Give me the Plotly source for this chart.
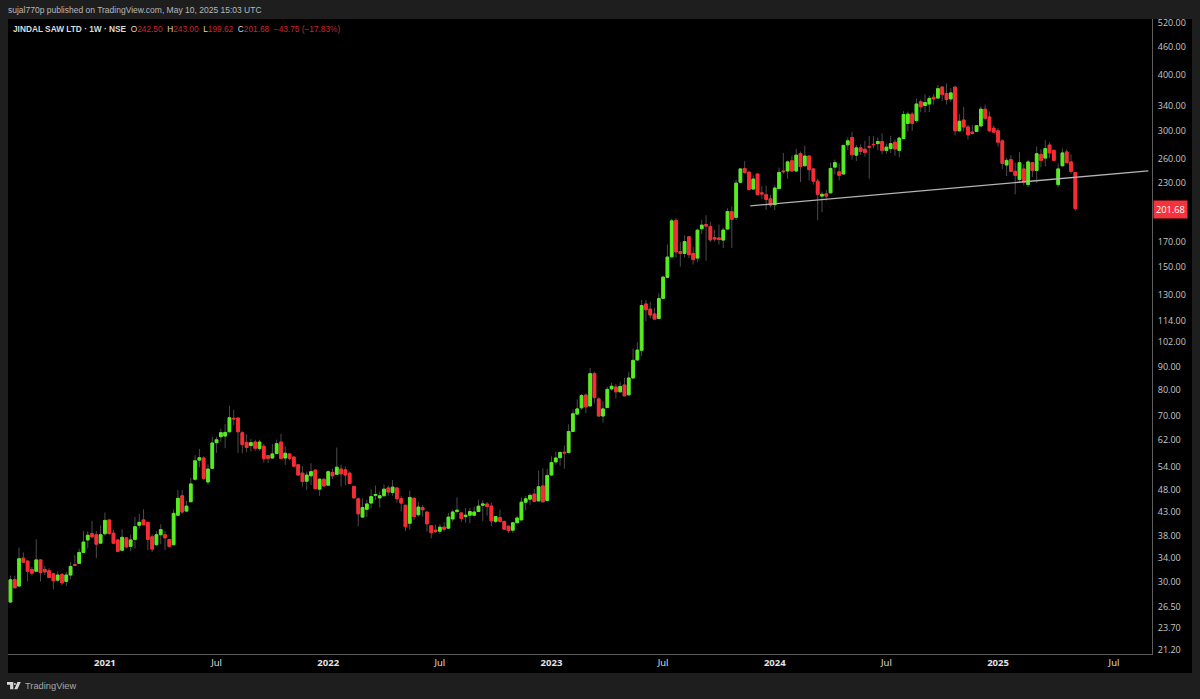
import plotly.graph_objects as go
import pandas as pd
import numpy as np

# weekly candles, oldest first, last one is the week of 2025-05-05
opens = [
    28.4, 27.1, 30.4, 29.4, 33.9, 33.4, 32, 31.7, 33.6, 32,
    31.8, 31.3, 30.3, 31.2, 30.1, 31.1, 32.8, 33, 34.9, 37.2,
    38.4, 38.2, 36.6, 38.4, 41.2, 38.5, 37.2, 35.3, 37.6, 36,
    37.3, 40.1, 41.2, 40.7, 37.8, 36.3, 38.2, 38.2, 37.3, 36.3,
    42.2, 46.6, 43.1, 45.2, 50.7, 55.9, 56.5, 50, 53.6, 61.1,
    63, 63.2, 64.6, 69.2, 69.3, 64.3, 61.2, 60.2, 61.3, 59.3,
    60, 57.2, 56.5, 57.8, 61.3, 56.5, 57.7, 56.8, 54.6, 52.3,
    50.2, 51.6, 53.1, 48.2, 50.7, 49.2, 52.5, 52, 53.4, 53.2,
    52.3, 48.9, 45.9, 41.8, 43.5, 44.9, 46.7, 46.1, 46.6, 48.5,
    47.4, 48.5, 45.9, 44.4, 40.5, 46, 42.3, 43.9, 42.9, 40,
    39.1, 38.9, 39.7, 39.5, 41.4, 43, 42.7, 41.9, 42.2, 42.2,
    43, 44.4, 44.7, 44.2, 40.9, 41.7, 40.9, 39.9, 39.1, 40.6,
    41.2, 45.1, 45.8, 47, 45.4, 49, 45.5, 51.8, 55.4, 56.6,
    58.2, 58.1, 64.7, 70.7, 73, 77.9, 73.7, 87, 76.4, 70,
    73.1, 80.4, 81.2, 79.2, 82, 78, 85, 93.2, 97.9, 124,
    120.8, 117.8, 115.2, 127.6, 142, 157.7, 189.8, 162, 160.5, 174.7,
    160.5, 156.7, 182, 186, 184.1, 174, 173.7, 171.8, 181.8, 198.7,
    192.9, 230.7, 247.6, 243, 222.9, 240.7, 218.6, 216.6, 212, 205.8,
    223.4, 244.4, 244.4, 257.5, 244.4, 267, 251, 263.8, 247, 232,
    215, 217.5, 218.6, 249.3, 243.4, 240.7, 279.3, 290, 265, 275,
    273, 277, 280, 281, 284, 271.5, 274, 283, 271.5, 288.5,
    311.6, 326.6, 316, 348, 341.3, 344, 356, 354.5, 375, 363,
    353, 375, 300, 317, 306, 298, 299, 307.5, 335, 322,
    304, 300, 285, 252, 259, 244, 234, 247, 228, 255,
    245, 265.7, 261, 279, 271.5, 228, 251, 269.4, 256, 242.5,
]
highs = [
    29.3, 31, 31, 35.8, 34.9, 33.5, 32.4, 37.3, 33.7, 32.6,
    32.2, 31.4, 31.7, 31.4, 31.6, 33.2, 34.4, 35.6, 38.9, 38.9,
    41, 38.9, 40.1, 42.8, 41.2, 39.1, 37.3, 39.3, 37.7, 38.2,
    41.8, 42.5, 43.5, 40.8, 38.3, 38.9, 40.3, 39, 37.4, 43.5,
    48, 48, 45.4, 51.1, 57.3, 59.2, 57, 54.7, 63, 63,
    65.6, 67.2, 73.8, 72.3, 69.3, 64.8, 63.8, 62.3, 62, 62,
    60.7, 57.4, 60.7, 62.1, 63.9, 60, 57.9, 56.9, 54.7, 54.2,
    52.7, 55, 53.5, 51, 51, 53.1, 53.5, 59.6, 54.6, 54.1,
    52.7, 49, 46.2, 46, 45.7, 48.2, 49.1, 47.6, 49.4, 49.1,
    50.5, 48.6, 46.6, 44.5, 47.8, 46.2, 45.2, 44.5, 42.9, 40,
    40.2, 40.3, 40.7, 42.7, 43.4, 46.2, 42.8, 43.8, 43.8, 44.1,
    45.7, 45.5, 45.1, 45, 42, 43.4, 41, 40, 40.8, 42,
    46.2, 46.6, 47.2, 48.2, 53, 53.6, 53.5, 57, 58.4, 58.6,
    60.2, 67.1, 72.3, 76.1, 78.3, 78.5, 89.5, 87.7, 77, 75.5,
    81.3, 83, 82.4, 83.3, 85, 87.7, 98.8, 102, 126.5, 126.5,
    125.3, 121.6, 131, 143.2, 168, 191.5, 192.2, 170, 176, 175,
    166, 182, 190.6, 195, 188.5, 181, 186, 183, 202, 204,
    233.4, 247.6, 257, 243.4, 239, 241, 226, 226.6, 216.6, 227,
    248.6, 268, 258, 264.4, 274, 270, 278, 264.6, 247.6, 235,
    220, 222, 255, 259, 254, 279, 290, 298, 279, 280,
    285, 292, 292, 290, 296, 281, 292, 287, 291, 332,
    331, 330, 354, 352, 361.5, 359, 362, 379, 377, 382,
    373, 377, 327, 339, 309, 309, 309, 340, 343, 331,
    308, 304, 287, 261.5, 265, 255, 269, 253, 259, 256,
    277, 273, 286, 283, 273, 254, 274, 273, 266, 243,
]
lows = [
    27.1, 27.05, 29, 29.35, 33.2, 30.1, 31, 31.6, 30.1, 31.1,
    30.7, 28.9, 30, 29.5, 29.4, 30.4, 32.6, 32.9, 34.8, 35.6,
    37.5, 33.9, 36.6, 38, 38.3, 36.4, 34.9, 35.1, 35.6, 35.1,
    35.6, 39.4, 40.1, 35.3, 35, 36.1, 36.4, 35.3, 35.8, 36.2,
    42.1, 42.5, 42.8, 45.2, 50.3, 53.9, 50.6, 49.3, 53.5, 58,
    61.4, 59.4, 64.4, 66.8, 58, 57.9, 58.2, 58.4, 58.6, 58.6,
    55.2, 55.1, 56.4, 57.7, 56.2, 54.5, 55.9, 54.2, 51.8, 48.8,
    48, 49.2, 48.3, 46.6, 48.8, 49, 50.8, 52, 48.8, 49.2,
    49.5, 46, 39.9, 41.7, 41.8, 43.7, 45.6, 43.9, 46.6, 46.6,
    46.6, 45, 43, 38.9, 39.2, 41.2, 41.9, 41.9, 38.8, 37.5,
    38.5, 38.4, 38.8, 39.3, 40.8, 42.4, 40.8, 40.6, 40.5, 41.9,
    42.9, 40.9, 42.1, 39.9, 40.5, 40.6, 39.3, 38.5, 38.6, 40.6,
    41.2, 43.3, 44.5, 45.3, 45.3, 45, 45.2, 51.7, 54.6, 54.3,
    53.5, 57.9, 64.6, 70.4, 72.3, 71.1, 73.6, 74.7, 70, 67.7,
    72.9, 79.7, 76.5, 79, 77.6, 77.6, 84.8, 93, 95.2, 113.5,
    115.2, 114.6, 115.2, 127.4, 141.8, 157.5, 157.2, 150, 157.2, 156.9,
    151.6, 153.7, 177.3, 154.7, 170, 170.3, 168, 164.9, 181, 165,
    190.3, 229.7, 241, 222, 222.2, 216, 212, 200.4, 203, 200,
    223.4, 241, 235, 243.7, 243, 231, 251, 233, 228, 190,
    198, 210, 218, 240, 233, 240, 272, 259, 257, 265,
    263, 235, 275, 272, 266, 267, 268, 264, 262, 288.5,
    299, 300, 313, 330, 329.5, 330, 343, 354, 349, 343,
    348, 293, 299, 299, 287, 294, 298, 307.5, 316, 298,
    297, 277, 247, 238, 243, 217, 230, 227, 225, 237,
    230, 249, 250, 261, 257, 225, 250, 254, 241, 199.62,
]
closes = [
    27.2, 30.35, 29.15, 33.8, 33.2, 31.7, 31.4, 33.6, 31.5, 31.6,
    30.7, 30.2, 31.1, 29.9, 31.1, 32.5, 32.7, 34.9, 36.8, 38.1,
    37.8, 36.4, 38.2, 41.1, 38.4, 36.6, 35.1, 37.7, 35.9, 37.2,
    39.8, 40.7, 40.2, 37.3, 35.5, 38.2, 39.2, 37.6, 36, 42.6,
    46, 42.9, 44.2, 49.5, 55.7, 56.6, 50.9, 53.4, 61, 62,
    64.3, 64.4, 69.4, 69, 64.6, 60.5, 59.6, 61.1, 59.4, 61.3,
    56.3, 56.4, 57.7, 60.8, 56.4, 57.9, 56.4, 54.2, 51.8, 50.1,
    51.8, 52.7, 48.3, 50.7, 49, 52.7, 51.6, 53.9, 52.1, 51.8,
    49.6, 46.1, 42.5, 43.9, 44.7, 46.4, 46.9, 46.6, 48.2, 47.5,
    48.7, 45.9, 44.9, 39.8, 46.2, 41.9, 44, 43.4, 40.4, 38.6,
    38.9, 39.7, 39.3, 41.8, 42.9, 43.3, 41.5, 42.2, 43, 42.9,
    44.2, 44.7, 44.1, 41, 41.9, 40.9, 39.3, 39, 40.6, 41.6,
    45.1, 45.9, 46.7, 45.3, 48.8, 45.2, 51.7, 55.2, 56.5, 58.1,
    58, 64.7, 70.8, 72.6, 77.7, 73.4, 86.9, 76.9, 70, 72.6,
    80.2, 81.5, 79.2, 81.4, 77.6, 85, 93, 98, 123, 120.4,
    117.2, 114.8, 127.5, 142.2, 157.5, 189.5, 161.7, 160.5, 170.5, 159.5,
    155.5, 180.7, 185.4, 184.5, 172, 172.7, 172.3, 180.8, 198.7, 191,
    229.7, 247, 242.4, 222.2, 234.5, 216.6, 217.5, 211.4, 205.5, 224,
    242.6, 243.5, 256, 244.4, 265, 250, 263.8, 246, 232, 217,
    217, 215, 247.6, 255, 239, 278.5, 285, 265.5, 275, 270,
    268.5, 276, 279.5, 284, 271.5, 276, 281, 273.5, 289, 326,
    326.6, 311.6, 344, 339, 346.5, 354, 353, 372, 361, 352,
    364, 300, 315, 306, 294, 296, 308, 335, 320, 300,
    298, 283, 254, 258, 244, 239, 255, 231, 256, 245,
    267, 258, 274, 268, 258, 247, 268, 255, 244, 201.68,
]
weeks = pd.date_range(end="2025-05-05", periods=len(opens), freq="W-MON")

price_ticks = [520, 460, 400, 340, 300, 260, 230, 170, 150, 130, 114, 102, 90,
               80, 70, 62, 54, 48, 43, 38, 34, 30, 26.5, 23.7, 21.2]
time_ticks = ["2021-01-04", "2021-07-05", "2022-01-03", "2022-07-04", "2023-01-02",
              "2023-07-03", "2024-01-01", "2024-07-01", "2024-12-30", "2025-07-07"]
time_labels = ["<b>2021</b>", "Jul", "<b>2022</b>", "Jul", "<b>2023</b>",
               "Jul", "<b>2024</b>", "Jul", "<b>2025</b>", "Jul"]
trend_dates = ["2023-11-22", "2025-09-01"]
trend_prices = [204.6, 244.5]
last_price = closes[-1]

GREEN = "#55ee1e"
RED = "#fb2b33"
WICK = "#4c4c4c"
BG = "#1e1e1e"
AXIS = "#5e5e5e"
W, H = 1200, 699
L, R, T, B = 8, 48, 19, 45


def px(x):
    return (x - L) / (W - L - R)


def py(y):
    return 1 - (y - T) / (H - T - B)


o = np.array(opens)
c = np.array(closes)

fig = go.Figure()
# grey wicks underneath, coloured bodies on top
fig.add_trace(go.Candlestick(
    x=weeks, open=opens, high=highs, low=lows, close=closes,
    increasing=dict(line=dict(color=WICK, width=1), fillcolor=WICK),
    decreasing=dict(line=dict(color=WICK, width=1), fillcolor=WICK),
    showlegend=False, hoverinfo="skip",
))
fig.add_trace(go.Candlestick(
    x=weeks, open=opens, high=np.maximum(o, c), low=np.minimum(o, c), close=closes,
    increasing=dict(line=dict(color=GREEN, width=1), fillcolor=GREEN),
    decreasing=dict(line=dict(color=RED, width=1), fillcolor=RED),
    showlegend=False,
))
fig.add_trace(go.Scatter(
    x=trend_dates, y=trend_prices, mode="lines",
    line=dict(color="#b4b4b4", width=1.3), showlegend=False, hoverinfo="skip",
))

LABEL = '<span style="color:#dcdcdc">%s</span>'
header = (LABEL % "<b>JINDAL SAW LTD · 1W · NSE</b>&nbsp;&nbsp;O" + "242.50&nbsp;&nbsp;"
          + LABEL % "H" + "243.00&nbsp;&nbsp;"
          + LABEL % "L" + "199.62&nbsp;&nbsp;"
          + LABEL % "C" + "201.68&nbsp;&nbsp;−43.75 (−17.83%)")

annotations = [
    dict(x=px(5.5), y=py(10), text="sujal770p published on TradingView.com, May 10, 2025 15:03 UTC",
         font=dict(family="Liberation Sans", size=8.5, color="#b8b8b8")),
    dict(x=px(11), y=py(29.5), text=header,
         font=dict(family="Liberation Sans", size=8.3, color="#c9272f")),
    dict(x=px(22.5), y=py(686.5), text="TradingView",
         font=dict(family="Liberation Sans", size=9.3, color="#a8a8a8")),
]
for a in annotations:
    a.update(xref="paper", yref="paper", xanchor="left", yanchor="middle",
             showarrow=False, align="left")
annotations.append(dict(
    x=px(1152.5), xref="paper", y=np.log10(last_price), yref="y", yshift=-1,
    xanchor="left", yanchor="middle",
    text=f"{last_price:.2f}", font=dict(size=9.2, color="#ffffff"), bgcolor="#f5333c",
    borderpad=2, showarrow=False,
))

shapes = [
    # black strips behind the price and time scales
    dict(type="rect", xref="paper", yref="paper", x0=px(1152), x1=px(1192), y0=py(673), y1=py(19),
         fillcolor="#000000", line_width=0, layer="below"),
    dict(type="rect", xref="paper", yref="paper", x0=px(8), x1=px(1192), y0=py(673), y1=py(654),
         fillcolor="#000000", line_width=0, layer="below"),
    # TradingView logo
    dict(type="path", xref="paper", yref="paper", fillcolor="#d8d8d8", line_width=0,
         path=f"M {px(7)} {py(682)} L {px(13.3)} {py(682)} L {px(13.3)} {py(689.3)} L {px(10.1)} {py(689.3)} "
              f"L {px(10.1)} {py(684.8)} L {px(7)} {py(684.8)} Z"),
    dict(type="circle", xref="paper", yref="paper", fillcolor="#d8d8d8", line_width=0,
         x0=px(13.9), x1=px(15.9), y0=py(685), y1=py(683)),
    dict(type="path", xref="paper", yref="paper", fillcolor="#d8d8d8", line_width=0,
         path=f"M {px(17.4)} {py(682)} L {px(20.8)} {py(682)} L {px(17.4)} {py(689.3)} L {px(14.3)} {py(689.3)} Z"),
]

fig.update_layout(
    width=W, height=H,
    margin=dict(l=L, r=R, t=T, b=B, autoexpand=False),
    paper_bgcolor=BG, plot_bgcolor="#000000",
    font=dict(family="Open Sans", color="#d8d8d8"),
    showlegend=False, boxgap=0.1,
    annotations=annotations, shapes=shapes,
    xaxis=dict(
        type="date", range=["2020-07-30", "2025-09-07"], rangeslider=dict(visible=False),
        tickmode="array", tickvals=time_ticks, ticktext=time_labels, ticks="",
        showgrid=False, zeroline=False, showline=True, linecolor=AXIS, linewidth=1,
        tickfont=dict(size=9.5, color="#e4e4e4"),
    ),
    yaxis=dict(
        type="log", side="right", range=[1.3178, 2.7249],
        tickmode="array", tickvals=price_ticks, ticktext=[f"{t:.2f}" for t in price_ticks], ticks="",
        showgrid=False, zeroline=False, showline=True, linecolor=AXIS, linewidth=1,
        ticklabelstandoff=3,
        tickfont=dict(size=9, color="#c8c8c8"),
    ),
)

fig.write_html("out.html", post_script="document.body.style.margin='0';",
               config={"displayModeBar": False})
